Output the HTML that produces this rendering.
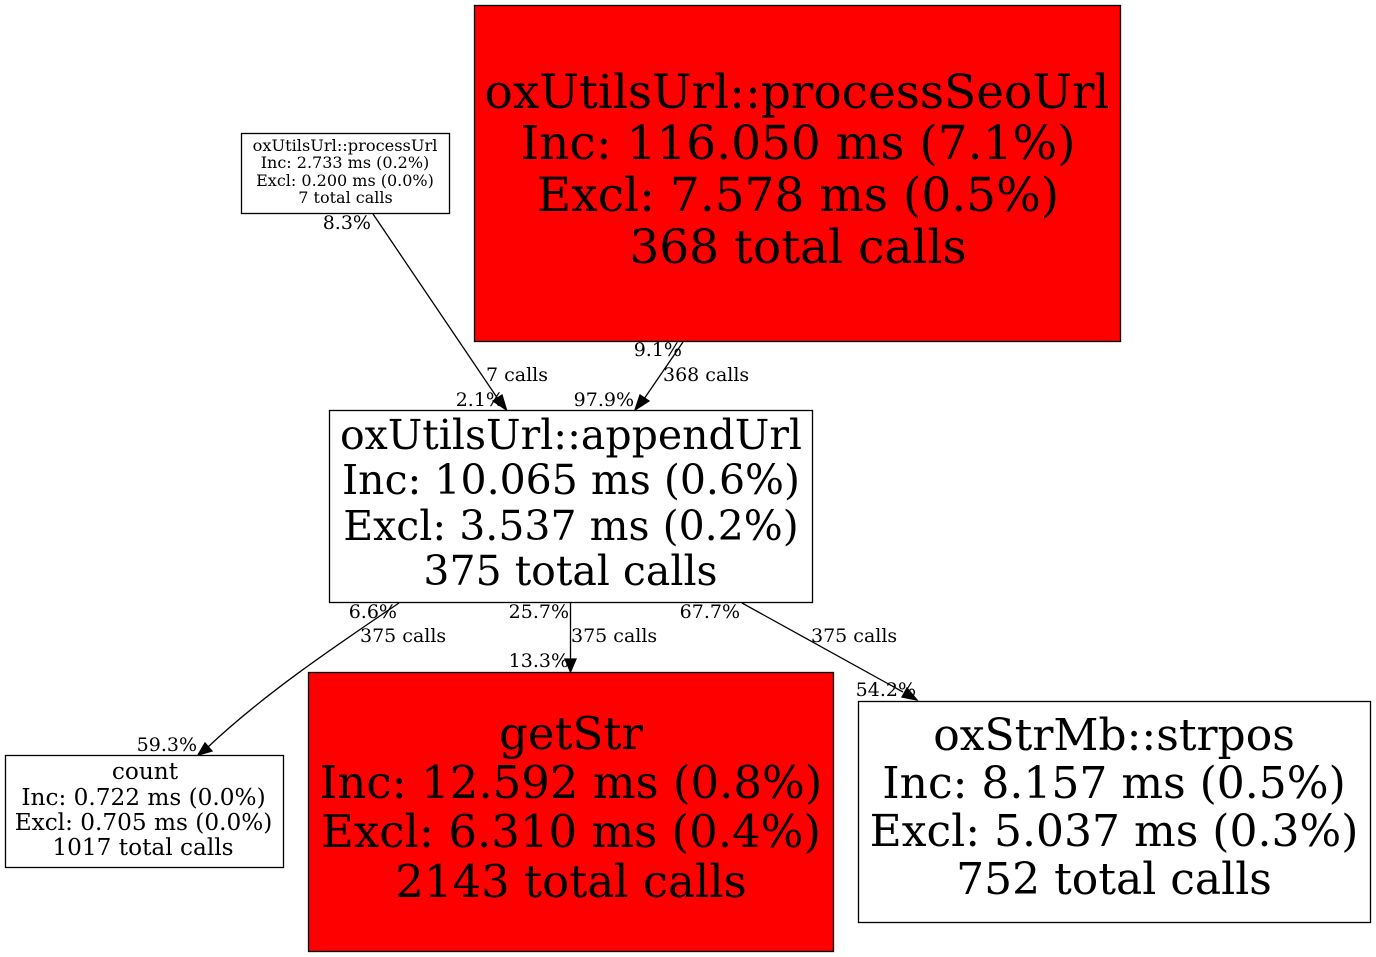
<!DOCTYPE html>
<html><head><meta charset="utf-8"><style>
html,body{margin:0;padding:0;background:#fff;width:1376px;height:957px;overflow:hidden}
svg{display:block}
text{font-family:"DejaVu Serif",serif;fill:#000;text-anchor:middle}
.e{font-size:19px;text-anchor:start}
.r{font-size:19px;text-anchor:end}
</style></head><body>
<svg width="1376" height="957" viewBox="0 0 1376 957" xmlns="http://www.w3.org/2000/svg">
<g stroke="#000" stroke-width="1.3">
<rect x="241.500" y="133.500" width="208" height="80" fill="#fff"/>
<rect x="474.500" y="5.500" width="646" height="336" fill="#f00"/>
<rect x="329.500" y="410.500" width="483" height="192" fill="#fff"/>
<rect x="5.500" y="755.500" width="278" height="112" fill="#fff"/>
<rect x="308.500" y="672.500" width="525" height="279" fill="#f00"/>
<rect x="858.500" y="701.500" width="512" height="221" fill="#fff"/>
<g fill="none">
<path d="M373 214L498 399"/>
<path d="M683 342L644 399"/>
<path d="M399 603C340 643 265 693 208 747"/>
<path d="M570.500 603V662"/>
<path d="M742 603L903 692"/>
</g>
<g fill="#000">
<polygon points="506.500,410 493,401 502,395"/>
<polygon points="635,410 640,395 649,401"/>
<polygon points="198,755 205,743 212,751"/>
<polygon points="570.500,672 565,659 576,659"/>
<polygon points="917,700 902,697 907,688"/>
</g>
</g>
<g font-size="16">
<text x="345" y="151" font-size="16.200">oxUtilsUrl::processUrl</text>
<text x="345" y="168">Inc: 2.733 ms (0.2%)</text>
<text x="345" y="186">Excl: 0.200 ms (0.0%)</text>
<text x="345.500" y="203">7 total calls</text>
</g>
<g font-size="47">
<text x="797" y="108">oxUtilsUrl::processSeoUrl</text>
<text x="798" y="159">Inc: 116.050 ms (7.1%)</text>
<text x="798" y="211">Excl: 7.578 ms (0.5%)</text>
<text x="798" y="263">368 total calls</text>
</g>
<g font-size="41">
<text x="571" y="449">oxUtilsUrl::appendUrl</text>
<text x="571" y="494">Inc: 10.065 ms (0.6%)</text>
<text x="571" y="540">Excl: 3.537 ms (0.2%)</text>
<text x="570.500" y="585">375 total calls</text>
</g>
<g font-size="23.200">
<text x="145" y="779">count</text>
<text x="143.500" y="805">Inc: 0.722 ms (0.0%)</text>
<text x="143.500" y="830">Excl: 0.705 ms (0.0%)</text>
<text x="143" y="855">1017 total calls</text>
</g>
<g font-size="45">
<text x="571" y="749">getStr</text>
<text x="571" y="798">Inc: 12.592 ms (0.8%)</text>
<text x="571" y="847">Excl: 6.310 ms (0.4%)</text>
<text x="571" y="897">2143 total calls</text>
</g>
<g font-size="44">
<text x="1114" y="750">oxStrMb::strpos</text>
<text x="1114" y="798">Inc: 8.157 ms (0.5%)</text>
<text x="1114" y="846">Excl: 5.037 ms (0.3%)</text>
<text x="1114" y="894">752 total calls</text>
</g>
<text class="r" x="371" y="229">8.3%</text>
<text class="r" x="682" y="356">9.1%</text>
<text class="e" x="486" y="381">7 calls</text>
<text class="e" x="663" y="381">368 calls</text>
<text class="r" x="504" y="406">2.1%</text>
<text class="r" x="634" y="406">97.9%</text>
<text class="r" x="397" y="618">6.6%</text>
<text class="r" x="569" y="618">25.7%</text>
<text class="r" x="740" y="618">67.7%</text>
<text class="e" x="360" y="642">375 calls</text>
<text class="e" x="571" y="642">375 calls</text>
<text class="e" x="811" y="642">375 calls</text>
<text class="r" x="569" y="667">13.3%</text>
<text class="r" x="916" y="696">54.2%</text>
<text class="r" x="197" y="751">59.3%</text>
</svg>
</body></html>
